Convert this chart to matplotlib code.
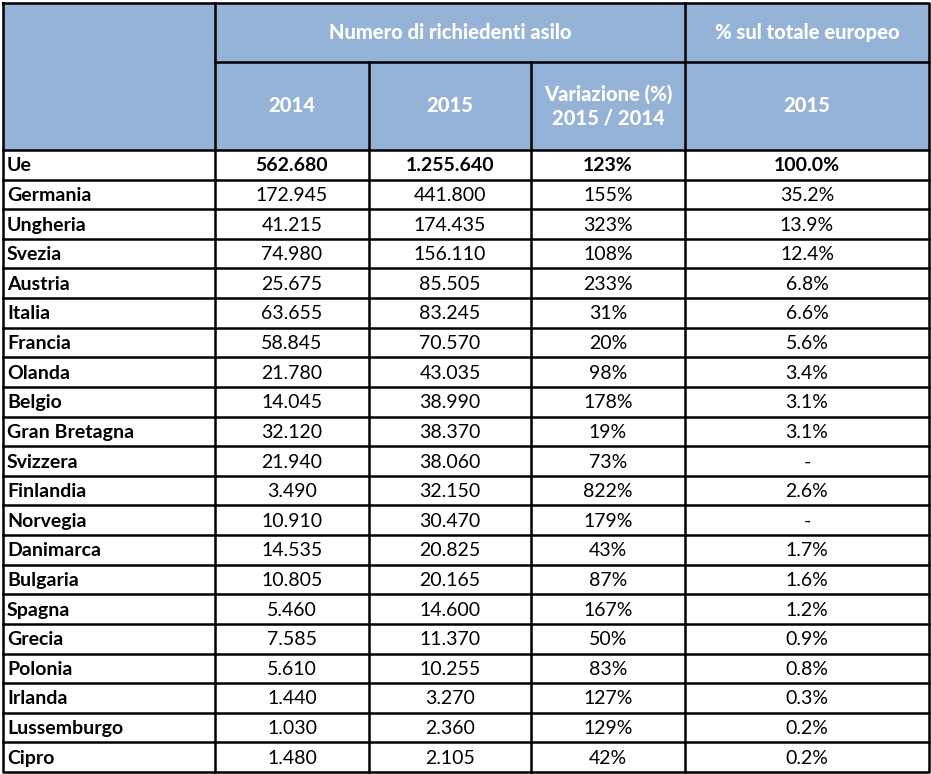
import matplotlib
matplotlib.use("Agg")
import matplotlib.pyplot as plt
from matplotlib.patches import Rectangle

countries = ["Ue", "Germania", "Ungheria", "Svezia", "Austria", "Italia", "Francia",
             "Olanda", "Belgio", "Gran Bretagna", "Svizzera", "Finlandia", "Norvegia",
             "Danimarca", "Bulgaria", "Spagna", "Grecia", "Polonia", "Irlanda",
             "Lussemburgo", "Cipro"]
val_2014 = ["562.680", "172.945", "41.215", "74.980", "25.675", "63.655", "58.845",
            "21.780", "14.045", "32.120", "21.940", "3.490", "10.910", "14.535",
            "10.805", "5.460", "7.585", "5.610", "1.440", "1.030", "1.480"]
val_2015 = ["1.255.640", "441.800", "174.435", "156.110", "85.505", "83.245", "70.570",
            "43.035", "38.990", "38.370", "38.060", "32.150", "30.470", "20.825",
            "20.165", "14.600", "11.370", "10.255", "3.270", "2.360", "2.105"]
variazione = ["123%", "155%", "323%", "108%", "233%", "31%", "20%", "98%", "178%",
              "19%", "73%", "822%", "179%", "43%", "87%", "167%", "50%", "83%",
              "127%", "129%", "42%"]
perc_eu = ["100.0%", "35.2%", "13.9%", "12.4%", "6.8%", "6.6%", "5.6%", "3.4%",
           "3.1%", "3.1%", "-", "2.6%", "-", "1.7%", "1.6%", "1.2%", "0.9%", "0.8%",
           "0.3%", "0.2%", "0.2%"]
header_group1 = "Numero di richiedenti asilo"
header_group2 = "% sul totale europeo"
sub_headers = ["2014", "2015", "Variazione (%)\n2015 / 2014", "2015"]

W, H = 931, 774
fig = plt.figure(figsize=(W / 100, H / 100), dpi=100)
ax = fig.add_axes([0, 0, 1, 1])
ax.set_xlim(0, W)
ax.set_ylim(H, 0)
ax.axis("off")

FONT = ["Lato", "DejaVu Sans"]
HEAD_BG = "#95B3D7"
LW = 1.8
FS_HEAD = 14.5
FS = 14

xs = [3, 215, 369, 531, 685, 929]
y_top, y_mid, y_head = 3, 62, 150
y_bot = 772
n = len(countries)
row_h = (y_bot - y_head) / n

# header background
ax.add_patch(Rectangle((xs[0], y_top), xs[-1] - xs[0], y_head - y_top,
                       facecolor=HEAD_BG, edgecolor="none", zorder=0))

# header texts
ax.text((xs[1] + xs[4]) / 2, (y_top + y_mid) / 2, header_group1, color="white",
        fontsize=FS_HEAD, fontweight="black", ha="center", va="center", family=FONT)
ax.text((xs[4] + xs[5]) / 2, (y_top + y_mid) / 2, header_group2, color="white",
        fontsize=FS_HEAD, fontweight="black", ha="center", va="center", family=FONT)
for i, s in enumerate(sub_headers):
    ax.text((xs[i + 1] + xs[i + 2]) / 2, (y_mid + y_head) / 2, s, color="white",
            fontsize=FS_HEAD, fontweight="black", ha="center", va="center", family=FONT,
            linespacing=1.3)

# rows
cols = [val_2014, val_2015, variazione, perc_eu]
for r in range(n):
    yc = y_head + (r + 0.5) * row_h
    bold = "bold" if r == 0 else "normal"
    ax.text(7, yc + 1, countries[r], fontsize=FS, fontweight="bold",
            ha="left", va="center", family=FONT, color="black")
    for c, col in enumerate(cols):
        ax.text((xs[c + 1] + xs[c + 2]) / 2, yc + 1, col[r], fontsize=FS,
                fontweight=bold, ha="center", va="center", family=FONT,
                color="black")

# lines
line_kw = dict(color="black", lw=LW, solid_capstyle="projecting")
ax.plot([xs[0], xs[-1], xs[-1], xs[0], xs[0]], [y_top, y_top, y_bot, y_bot, y_top], **line_kw)
ax.plot([xs[1], xs[1]], [y_top, y_bot], **line_kw)
ax.plot([xs[4], xs[4]], [y_top, y_bot], **line_kw)
ax.plot([xs[2], xs[2]], [y_mid, y_bot], **line_kw)
ax.plot([xs[3], xs[3]], [y_mid, y_bot], **line_kw)
ax.plot([xs[1], xs[-1]], [y_mid, y_mid], **line_kw)
for r in range(n):
    y = y_head + r * row_h
    ax.plot([xs[0], xs[-1]], [y, y], **line_kw)

fig.savefig("out.png", dpi=100)
